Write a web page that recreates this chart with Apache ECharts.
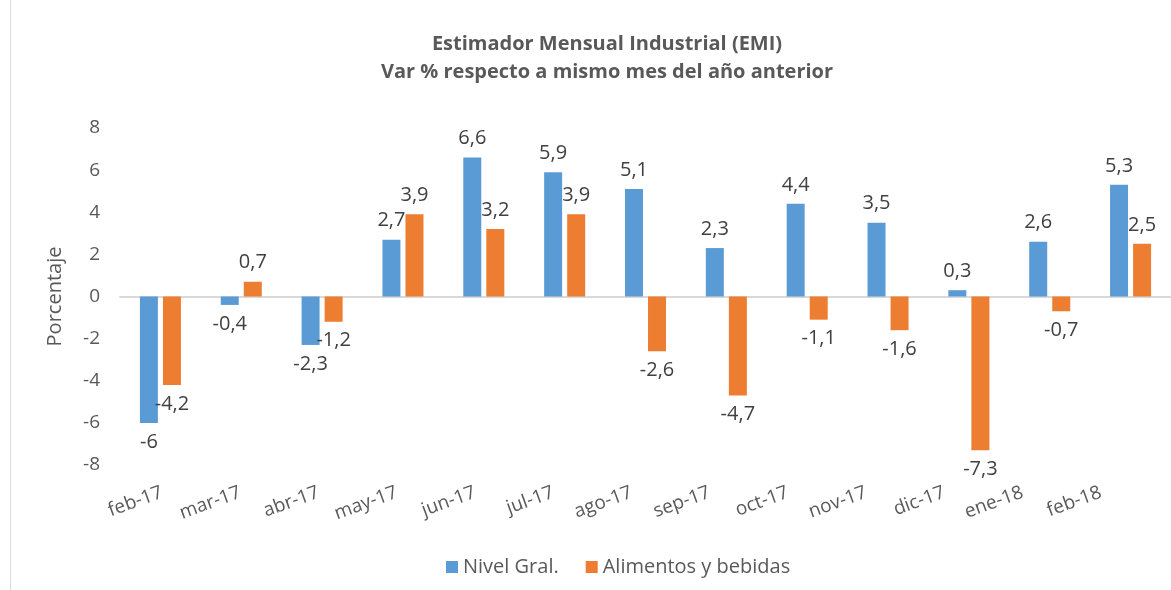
<!DOCTYPE html>
<html>
<head>
<meta charset="utf-8">
<title>EMI</title>
<script src="https://cdn.jsdelivr.net/npm/echarts@6/dist/echarts.min.js"></script>
<style>
  html, body { margin: 0; padding: 0; background: #fff; }
  #chart { width: 1171px; height: 590px; }
</style>
</head>
<body>
<div id="chart"></div>
<script>
// datos
const categories = ['feb-17', 'mar-17', 'abr-17', 'may-17', 'jun-17', 'jul-17', 'ago-17',
  'sep-17', 'oct-17', 'nov-17', 'dic-17', 'ene-18', 'feb-18']
const nivelGral = [-6, -0.4, -2.3, 2.7, 6.6, 5.9, 5.1, 2.3, 4.4, 3.5, 0.3, 2.6, 5.3]
const alimentos = [-4.2, 0.7, -1.2, 3.9, 3.2, 3.9, -2.6, -4.7, -1.1, -1.6, -7.3, -0.7, 2.5]
const seriesNames = ['Nivel Gral.', 'Alimentos y bebidas']

const FONT = 'Open Sans'
const TEXT = '#595959'

// etiqueta arriba si es positivo, abajo si es negativo
const toBarData = arr => arr.map(v => ({
  value: v,
  label: { position: v < 0 ? 'bottom' : 'top' }
}))

const barLabel = {
  show: true,
  distance: 9,
  color: '#404040',
  fontSize: 20,
  fontFamily: FONT,
  formatter: p => String(p.value).replace('.', ',')
}

const chart = echarts.init(document.getElementById('chart'))

const option = {
  animation: false,
  backgroundColor: '#fff',
  textStyle: { fontFamily: FONT },
  title: {
    text: 'Estimador Mensual Industrial (EMI)\nVar % respecto a mismo mes del año anterior',
    left: 602,
    top: 25,
    textAlign: 'center',
    textStyle: {
      fontFamily: FONT,
      fontSize: 20,
      fontWeight: 'bold',
      color: TEXT,
      lineHeight: 28
    }
  },
  legend: {
    data: seriesNames,
    left: 441,
    top: 552,
    icon: 'rect',
    itemWidth: 12,
    itemHeight: 12,
    itemGap: 27,
    textStyle: { fontFamily: FONT, fontSize: 20, color: TEXT }
  },
  grid: [
    { left: 120, width: 1066, top: 128, bottom: 125 },
    // grid auxiliar solo para las etiquetas del eje x
    { left: 123, width: 1017, top: 128, bottom: 125 }
  ],
  xAxis: [
    {
      type: 'category',
      data: categories,
      gridIndex: 0,
      axisLine: { show: true, onZero: true, lineStyle: { color: '#d9d9d9', width: 2 } },
      axisTick: { show: false },
      axisLabel: { show: false }
    },
    {
      type: 'category',
      data: categories,
      gridIndex: 1,
      axisLine: { show: false, onZero: false },
      axisTick: { show: false },
      axisLabel: {
        rotate: 20,
        margin: 27,
        fontSize: 19,
        fontFamily: FONT,
        color: TEXT
      }
    }
  ],
  yAxis: [
    {
      type: 'value',
      gridIndex: 0,
      min: -8,
      max: 8,
      interval: 2,
      name: 'Porcentaje',
      nameLocation: 'middle',
      nameGap: 55,
      nameTextStyle: { fontFamily: FONT, fontSize: 20, color: TEXT },
      axisLine: { show: false },
      axisTick: { show: false },
      splitLine: { show: false },
      axisLabel: { margin: 20, fontSize: 19, fontFamily: FONT, color: TEXT }
    },
    { type: 'value', gridIndex: 1, min: -8, max: 8, show: false }
  ],
  graphic: [
    {
      type: 'line',
      shape: { x1: 10.5, y1: 0, x2: 10.5, y2: 590 },
      style: { stroke: '#d9d9d9', lineWidth: 1 },
      silent: true
    }
  ],
  series: [
    {
      name: seriesNames[0],
      type: 'bar',
      barWidth: 18,
      barGap: '28%',
      itemStyle: { color: '#5B9BD5' },
      label: barLabel,
      data: toBarData(nivelGral)
    },
    {
      name: seriesNames[1],
      type: 'bar',
      barWidth: 18,
      barGap: '28%',
      itemStyle: { color: '#ED7D31' },
      label: barLabel,
      data: toBarData(alimentos)
    }
  ]
}

chart.setOption(option)
</script>
</body>
</html>
